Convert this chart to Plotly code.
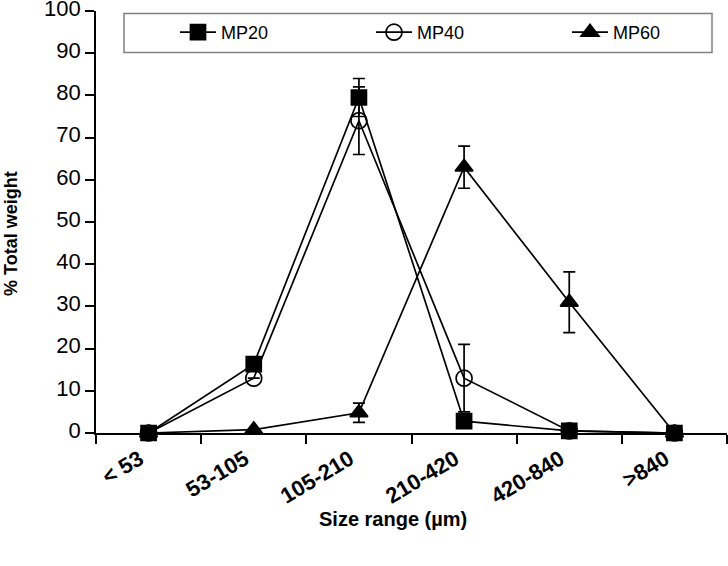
import plotly.graph_objects as go

categories = ["< 53", "53-105", "105-210", "210-420", "420-840", ">840"]
mp20 = [0, 16.3, 79.5, 2.8, 0.5, 0]
mp20_err = [0, 1.5, 4.5, 0, 0, 0]
mp40 = [0, 13.0, 74.0, 13.0, 0.5, 0]
mp40_err = [0, 0, 8.0, 8.0, 0, 0]
mp60 = [0, 0.8, 4.8, 63.0, 31.0, 0]
mp60_err = [0, 0, 2.3, 5.0, 7.2, 0]

x_title = "Size range (µm)"
y_title = "% Total weight"

font_family = "Liberation Sans, Arial, sans-serif"

W, H = 728, 566
L, T, PW, PH = 96, 10.5, 631, 423

fig = go.Figure()
series = [
    ("MP20", mp20, mp20_err, "square", "black", 15, "legend", 175),
    ("MP40", mp40, mp40_err, "circle-open", "black", 16, "legend2", 371),
    ("MP60", mp60, mp60_err, "triangle-up", "black", 15.5, "legend3", 567),
]
legend_layout = {}
for name, vals, errs, sym, col, sz, lg, ox in series:
    fig.add_trace(go.Scatter(
        x=categories, y=vals, name=name, mode="lines+markers",
        line=dict(color="black", width=1.7),
        marker=dict(symbol=sym, size=sz, color=col, line=dict(color="black", width=1.7)),
        error_y=dict(type="data", array=errs, visible=True, color="black", thickness=1.7, width=6),
        cliponaxis=False, legend=lg,
    ))
    legend_layout[lg] = dict(
        x=(ox - L) / PW, xanchor="left",
        y=(T + PH - 32) / PH, yanchor="middle",
        bgcolor="rgba(0,0,0,0)", borderwidth=0,
        font=dict(size=18, family=font_family), itemwidth=36,
    )

fig.add_shape(type="rect", xref="paper", yref="paper",
              x0=(124 - L) / PW, x1=(712 - L) / PW,
              y0=(T + PH - 52) / PH, y1=(T + PH - 13) / PH,
              line=dict(color="#808080", width=1.5), fillcolor="white", layer="below")

# axis titles placed as annotations (positioned off-centre as in the original)
fig.add_annotation(text=x_title, xref="paper", yref="paper",
                   x=(393 - L) / PW, y=-(520 - T - PH) / PH,
                   xanchor="center", yanchor="middle", showarrow=False,
                   font=dict(size=20, family=font_family, weight="bold"))
fig.add_annotation(text=y_title, xref="paper", yref="paper",
                   x=(11 - L) / PW, y=(T + PH - 234) / PH, textangle=-90,
                   xanchor="center", yanchor="middle", showarrow=False,
                   font=dict(size=18, family=font_family, weight="bold"))

fig.update_layout(
    width=W, height=H,
    margin=dict(l=L, r=W - L - PW, t=T, b=H - T - PH),
    paper_bgcolor="white", plot_bgcolor="white",
    font=dict(family=font_family, color="black"),
    showlegend=True,
    xaxis=dict(type="category", range=[-0.5, 5.5], tickson="boundaries",
               showline=True, linecolor="black", linewidth=1.7,
               ticks="outside", ticklen=9, tickwidth=1.7, tickcolor="black",
               tickangle=-31, showgrid=False, zeroline=False, automargin=False,
               ticklabelshift=-9, ticklabelstandoff=3, ticklabeloverflow="allow",
               tickfont=dict(size=22, family=font_family, weight="bold")),
    yaxis=dict(range=[0, 100], dtick=10, showline=True, linecolor="black", linewidth=1.7,
               ticks="outside", ticklen=9, tickwidth=1.7, tickcolor="black",
               showgrid=False, zeroline=False, automargin=False,
               ticklabeloverflow="allow", ticklabelshift=-3,
               tickfont=dict(size=22, family=font_family)),
    **legend_layout,
)

fig.write_html("out.html", config={"displayModeBar": False},
               post_script="document.body.style.margin='0px';")
